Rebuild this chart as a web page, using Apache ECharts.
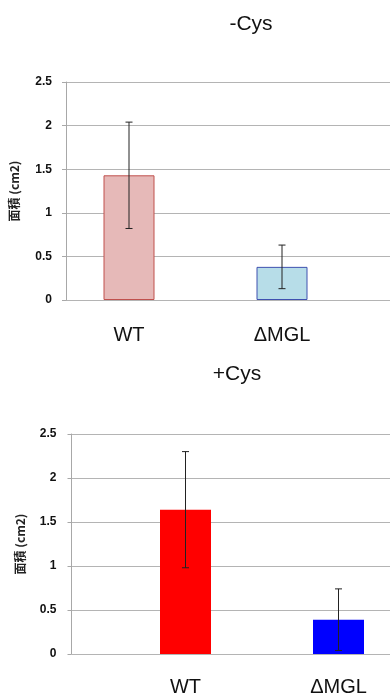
<!DOCTYPE html>
<html>
<head>
<meta charset="utf-8">
<script src="https://cdn.jsdelivr.net/npm/echarts@6/dist/echarts.min.js"></script>
<style>
  html, body { margin: 0; padding: 0; background: #fff; }
  #main { width: 390px; height: 699px; }
</style>
</head>
<body>
<div id="main"></div>
<script>
// data
var categories = ['WT', 'ΔMGL'];
var yTicks = [0, 0.5, 1, 1.5, 2, 2.5];
var minusCysMean = [1.43, 0.38];
var minusCysErr = [0.61, 0.25];
var plusCysMean = [1.64, 0.39];
var plusCysErr = [0.66, 0.35];

var main = document.getElementById('main');
var chart = echarts.init(main);

var yMin = yTicks[0], yMax = yTicks[yTicks.length - 1], yStep = yTicks[1] - yTicks[0];

function errData(mean, err) {
  return mean.map(function (m, i) { return [i, m, err[i]]; });
}

function errItem(params, api) {
  var x = api.value(0), y = api.value(1), e = api.value(2);
  var hi = api.coord([x, y + e]);
  var lo = api.coord([x, y - e]);
  var w = 3.5;
  var st = { stroke: '#222', lineWidth: 1 };
  return {
    type: 'group',
    children: [
      { type: 'line', shape: { x1: hi[0], y1: hi[1], x2: lo[0], y2: lo[1] }, style: st },
      { type: 'line', shape: { x1: hi[0] - w, y1: hi[1], x2: hi[0] + w, y2: hi[1] }, style: st },
      { type: 'line', shape: { x1: lo[0] - w, y1: lo[1], x2: lo[0] + w, y2: lo[1] }, style: st }
    ]
  };
}

function gridYAxis(idx, margin, nameGap) {
  return {
    gridIndex: idx,
    type: 'value',
    min: yMin, max: yMax, interval: yStep,
    name: '面積 (cm2)',
    nameLocation: 'middle',
    nameGap: nameGap,
    nameRotate: 90,
    nameTextStyle: { fontFamily: 'Noto Sans CJK JP', fontWeight: 'bold', fontSize: 12, color: '#222' },
    axisLine: { show: true, lineStyle: { color: '#a8a8a8', width: 1 } },
    axisTick: { show: true, length: 4, lineStyle: { color: '#a8a8a8' } },
    axisLabel: {
      margin: margin, fontFamily: 'Liberation Sans', fontWeight: 'bold', fontSize: 12, color: '#111',
      formatter: function (v) { return String(v); }
    },
    splitLine: { show: true, lineStyle: { color: '#b4b4b4', width: 1 } }
  };
}

function barYAxis(idx) {
  return { gridIndex: idx, type: 'value', min: yMin, max: yMax, interval: yStep, show: false, splitLine: { show: false } };
}

// bar grids: category centres sit on the grid edges (boundaryGap false)
function barXAxis(idx, margin) {
  return {
    gridIndex: idx,
    type: 'category',
    data: categories,
    boundaryGap: false,
    axisLine: { show: false },
    axisTick: { show: false },
    splitLine: { show: false },
    axisLabel: { margin: margin, fontFamily: 'Liberation Sans', fontSize: 20, color: '#111' }
  };
}

var option = {
  animation: false,
  backgroundColor: '#fff',
  title: [
    { text: '-Cys', left: 246, top: 9, textAlign: 'center',
      textStyle: { fontFamily: 'Liberation Sans', fontWeight: 'normal', fontSize: 21, color: '#111' } },
    { text: '+Cys', left: 232, top: 359, textAlign: 'center',
      textStyle: { fontFamily: 'Liberation Sans', fontWeight: 'normal', fontSize: 21, color: '#111' } }
  ],
  grid: [
    { left: 65, right: 0, top: 82, height: 218 },
    { left: 129, right: 108, top: 82, height: 218 },
    { left: 71.5, right: 0, top: 434, height: 220 },
    { left: 185.5, right: 51.5, top: 434, height: 220 }
  ],
  xAxis: [
    { gridIndex: 0, type: 'category', data: categories, show: false },
    barXAxis(1, 25),
    { gridIndex: 2, type: 'category', data: categories, show: false },
    barXAxis(3, 23)
  ],
  yAxis: [
    gridYAxis(0, 14, 46),
    barYAxis(1),
    gridYAxis(2, 15, 45),
    barYAxis(3)
  ],
  series: [
    {
      type: 'bar', xAxisIndex: 1, yAxisIndex: 1, barWidth: 51, clip: false,
      data: minusCysMean.map(function (v, i) {
        return {
          value: v,
          itemStyle: i === 0
            ? { color: '#e6b9b8', borderColor: '#c0504d', borderWidth: 1 }
            : { color: '#b7dde8', borderColor: '#3f51b0', borderWidth: 1 }
        };
      })
    },
    {
      type: 'custom', xAxisIndex: 1, yAxisIndex: 1, z: 5, clip: false,
      renderItem: errItem, data: errData(minusCysMean, minusCysErr)
    },
    {
      type: 'bar', xAxisIndex: 3, yAxisIndex: 3, barWidth: 51, clip: false,
      data: plusCysMean.map(function (v, i) {
        return { value: v, itemStyle: { color: i === 0 ? '#ff0000' : '#0000ff' } };
      })
    },
    {
      type: 'custom', xAxisIndex: 3, yAxisIndex: 3, z: 5, clip: false,
      renderItem: errItem, data: errData(plusCysMean, plusCysErr)
    }
  ]
};

option && chart.setOption(option);
</script>
</body>
</html>
